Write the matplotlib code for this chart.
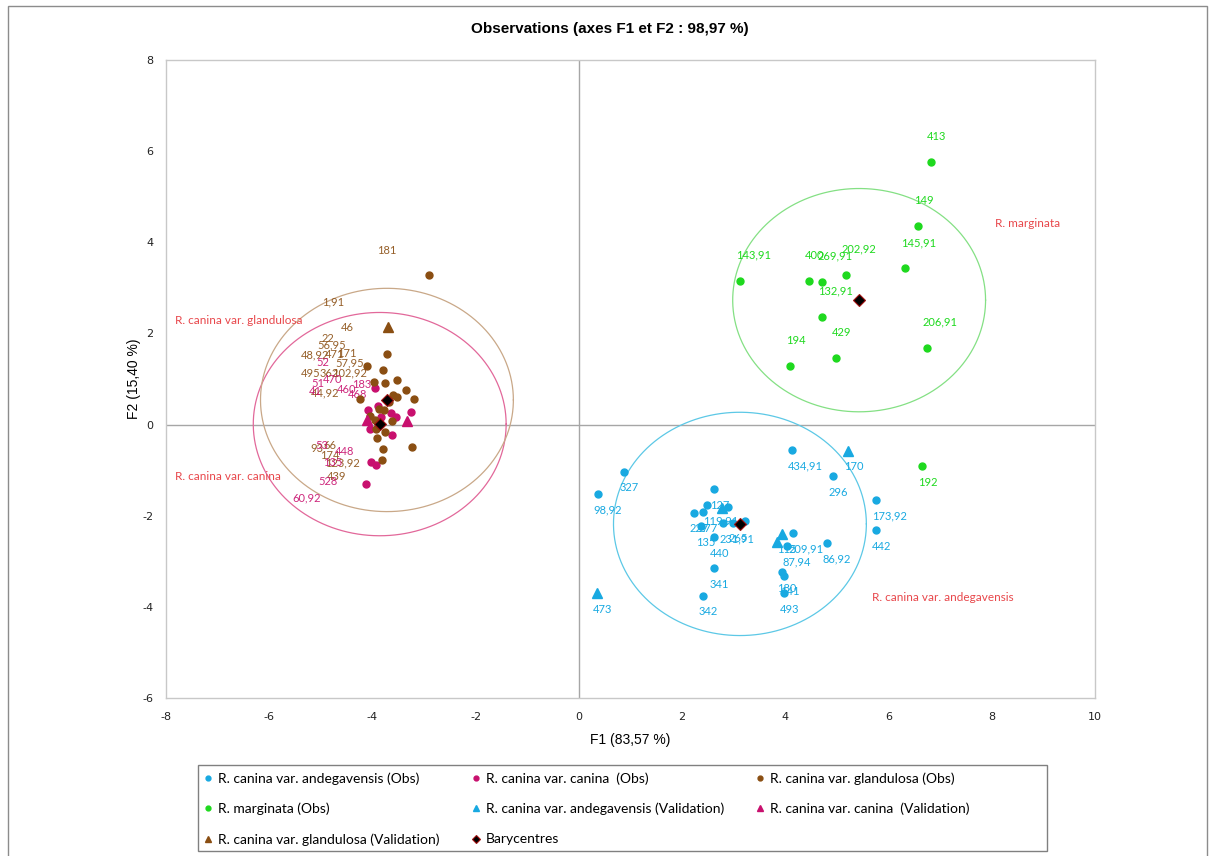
import numpy as np
import matplotlib.pyplot as plt
import matplotlib.patches as patches

plt.rcParams['axes.unicode_minus'] = False

# R. canina var. andegavensis (Obs)
and_x = [0.87, 0.37, 2.62, 2.48, 2.89, 2.23, 2.40, 2.36, 2.62, 2.98, 2.80, 3.22, 2.62, 2.40,
         4.13, 4.92, 5.76, 5.76, 4.81, 4.03, 4.15, 3.93, 3.97, 3.97]
and_y = [-1.04, -1.53, -1.42, -1.77, -1.81, -1.94, -1.92, -2.23, -2.47, -2.16, -2.15, -2.12, -3.15, -3.76,
         -0.56, -1.13, -1.66, -2.32, -2.60, -2.67, -2.38, -3.24, -3.32, -3.70]
and_lab = ["327", "98,92", "127", "119,91", "", "227", "277", "135", "440", "265", "231,91", "", "341", "342",
           "434,91", "296", "173,92", "442", "86,92", "87,94", "209,91", "180", "141", "493"]

# R. canina var. andegavensis (Validation)
andv_x = [0.35, 5.21, 2.77, 3.93, 3.84]
andv_y = [-3.70, -0.58, -1.83, -2.40, -2.58]
andv_lab = ["473", "170", "", "115", ""]

# R. marginata (Obs)
mar_x = [6.82, 6.57, 6.32, 3.12, 4.46, 4.71, 5.17, 4.71, 4.09, 4.98, 6.74, 6.65]
mar_y = [5.76, 4.36, 3.43, 3.15, 3.15, 3.13, 3.28, 2.36, 1.28, 1.46, 1.68, -0.91]
mar_lab = ["413", "149", "145,91", "143,91", "400", "269,91", "202,92", "132,91", "194", "429", "206,91", "192"]

# R. canina var. glandulosa (Obs)
gla_x = [-2.91, -3.72, -4.11, -3.80, -3.53, -3.97, -3.76, -3.35, -4.24, -3.20, -3.60, -3.53,
         -3.68, -3.88, -3.78, -4.05, -3.95, -3.62, -3.93, -3.76, -3.91, -3.80, -3.24, -3.82]
gla_y = [3.28, 1.55, 1.28, 1.20, 0.98, 0.93, 0.91, 0.76, 0.56, 0.56, 0.65, 0.60,
         0.49, 0.34, 0.32, 0.19, 0.10, 0.08, -0.10, -0.16, -0.30, -0.54, -0.50, -0.78]
# R. canina var. glandulosa (Validation)
glav_x = [-3.70]
glav_y = [2.14]

# R. canina var. canina (Obs)
can_x = [-3.95, -3.90, -4.09, -3.64, -3.55, -3.26, -3.84, -4.05, -3.62, -4.03, -3.93, -4.13]
can_y = [0.80, 0.41, 0.32, 0.25, 0.16, 0.27, 0.16, -0.10, -0.23, -0.82, -0.89, -1.31]
# R. canina var. canina (Validation)
canv_x = [-4.11, -3.33]
canv_y = [0.10, 0.08]

# labels of the left group (as placed in the picture)
gla_txt = ["181", "1,91", "46", "22", "56,95", "48,92", "471", "171", "57,95", "495", "362", "102,92",
           "44,92", "66", "93", "174", "123,92", "439"]
gla_tx = [-3.72, -4.77, -4.48, -4.86, -4.79, -5.12, -4.73, -4.50, -4.44, -5.19, -4.83, -4.44,
          -4.92, -4.83, -5.08, -4.83, -4.59, -4.69]
gla_ty = [3.83, 2.69, 2.12, 1.88, 1.74, 1.53, 1.53, 1.57, 1.35, 1.13, 1.13, 1.13,
          0.69, -0.45, -0.52, -0.67, -0.84, -1.13]
can_txt = ["52", "51", "470", "183", "460", "468", "41", "53", "448", "135", "528", "60,92"]
can_tx = [-4.96, -5.06, -4.77, -4.21, -4.50, -4.30, -5.10, -4.98, -4.55, -4.77, -4.86, -5.27]
can_ty = [1.37, 0.91, 0.98, 0.89, 0.78, 0.67, 0.73, -0.45, -0.60, -0.84, -1.24, -1.61]

# Barycentres and circles
bar_x = [3.12, -3.86, -3.72, 5.43]
bar_y = [-2.18, 0.01, 0.54, 2.73]
circ_r = [2.45, 2.45, 2.45, 2.45]
circ_col = ['#5CC8E6', '#E2689A', '#C9A888', '#84E084']

grp_names = ["R. canina var. andegavensis", "R. canina var. canina", "R. canina var. glandulosa", "R. marginata"]
grp_nx = [5.68, -7.83, -7.83, 8.06]
grp_ny = [-3.79, -1.13, 2.29, 4.42]

c_and = '#18A9E1'
c_can = '#C8106E'
c_gla = '#8A4E12'
c_mar = '#1ED91E'
c_red = '#E8474B'

fig = plt.figure(figsize=(12.13, 8.56), dpi=100)
ax = fig.add_axes([0.1369, 0.1846, 0.7658, 0.7453])

ax.axhline(0, color='#A6A6A6', lw=1, zorder=1)
ax.axvline(0, color='#A6A6A6', lw=1, zorder=1)

t = np.linspace(0, 2 * np.pi, 300)
for cx, cy, r, col in zip(bar_x, bar_y, circ_r, circ_col):
    ax.plot(cx + r * np.cos(t), cy + r * np.sin(t), color=col, lw=0.9, zorder=2)

h1, = ax.plot(and_x, and_y, 'o', color=c_and, ms=5, zorder=3, label="R. canina var. andegavensis (Obs)")
h2, = ax.plot(can_x, can_y, 'o', color=c_can, ms=5, zorder=3, label="R. canina var. canina  (Obs)")
h3, = ax.plot(gla_x, gla_y, 'o', color=c_gla, ms=5, zorder=3, label="R. canina var. glandulosa (Obs)")
h4, = ax.plot(mar_x, mar_y, 'o', color=c_mar, ms=5, zorder=3, label="R. marginata (Obs)")
h5, = ax.plot(andv_x, andv_y, '^', color=c_and, ms=7, zorder=3, label="R. canina var. andegavensis (Validation)")
h6, = ax.plot(canv_x, canv_y, '^', color=c_can, ms=7, zorder=3, label="R. canina var. canina  (Validation)")
h7, = ax.plot(glav_x, glav_y, '^', color=c_gla, ms=7, zorder=3, label="R. canina var. glandulosa (Validation)")
h8, = ax.plot(bar_x, bar_y, 'D', color='black', mec='#A01010', mew=0.8, ms=6, zorder=4, label="Barycentres")


def put_labels(xs, ys, labs, color):
    for x, y, s in zip(xs, ys, labs):
        dy = 18.5 if y > 0 else -11.5
        ax.annotate(s, (x, y), xytext=(-3, dy), textcoords='offset points', ha='left', va='center',
                    color=color, fontsize=8, family='Lato', zorder=2)


put_labels(and_x, and_y, and_lab, c_and)
put_labels(andv_x, andv_y, andv_lab, c_and)
put_labels(mar_x, mar_y, mar_lab, c_mar)

for s, x, y in zip(gla_txt, gla_tx, gla_ty):
    ax.text(x, y, s, color=c_gla, fontsize=8, family='Lato', ha='center', va='center', zorder=2, alpha=0.9)
for s, x, y in zip(can_txt, can_tx, can_ty):
    ax.text(x, y, s, color=c_can, fontsize=8, family='Lato', ha='center', va='center', zorder=2, alpha=0.9)

for s, x, y in zip(grp_names, grp_nx, grp_ny):
    ax.text(x, y, s, color=c_red, fontsize=8.5, family='Lato', ha='left', va='center')

ax.set_xlim(-8, 10)
ax.set_ylim(-6, 8)
ax.set_xticks(range(-8, 11, 2))
ax.set_yticks(range(-6, 9, 2))
ax.tick_params(length=0, labelsize=8, colors='#222222')
ax.tick_params(axis='x', pad=10)
ax.tick_params(axis='y', pad=9)
for sp in ax.spines.values():
    sp.set_color('#C8C8C8')
    sp.set_linewidth(1)

ax.set_xlabel("F1 (83,57 %)", fontsize=10, family='Liberation Sans', labelpad=8)
ax.set_ylabel("F2 (15,40 %)", fontsize=10, family='Liberation Sans', labelpad=1)
fig.text(0.503, 0.966, "Observations (axes F1 et F2 : 98,97 %)", ha='center', va='center',
         fontsize=11, fontweight='bold', family='Liberation Sans')

handles = [h1, h4, h7, h2, h5, h8, h3, h6]
leg = fig.legend(handles=handles, loc='upper left', ncol=3,
                 bbox_to_anchor=(0.165, 1 - 768 / 856), bbox_transform=fig.transFigure,
                 prop={'family': 'Lato', 'size': 10}, markerscale=0.7, handlelength=0.6,
                 handletextpad=0.4, columnspacing=2.3, frameon=False, borderaxespad=0,
                 borderpad=0.3, labelspacing=1.3)

# legend box and outer frame
fig.patches.append(patches.Rectangle((198 / 1213, 1 - 851 / 856), 849 / 1213, 86 / 856,
                                     transform=fig.transFigure, fill=False, edgecolor='#808080', lw=1))
fig.patches.append(patches.Rectangle((0.007, -0.01), 0.988, 1.003, transform=fig.transFigure,
                                     fill=False, edgecolor='#8C8C8C', lw=1))

plt.savefig('out.png', dpi=100)
